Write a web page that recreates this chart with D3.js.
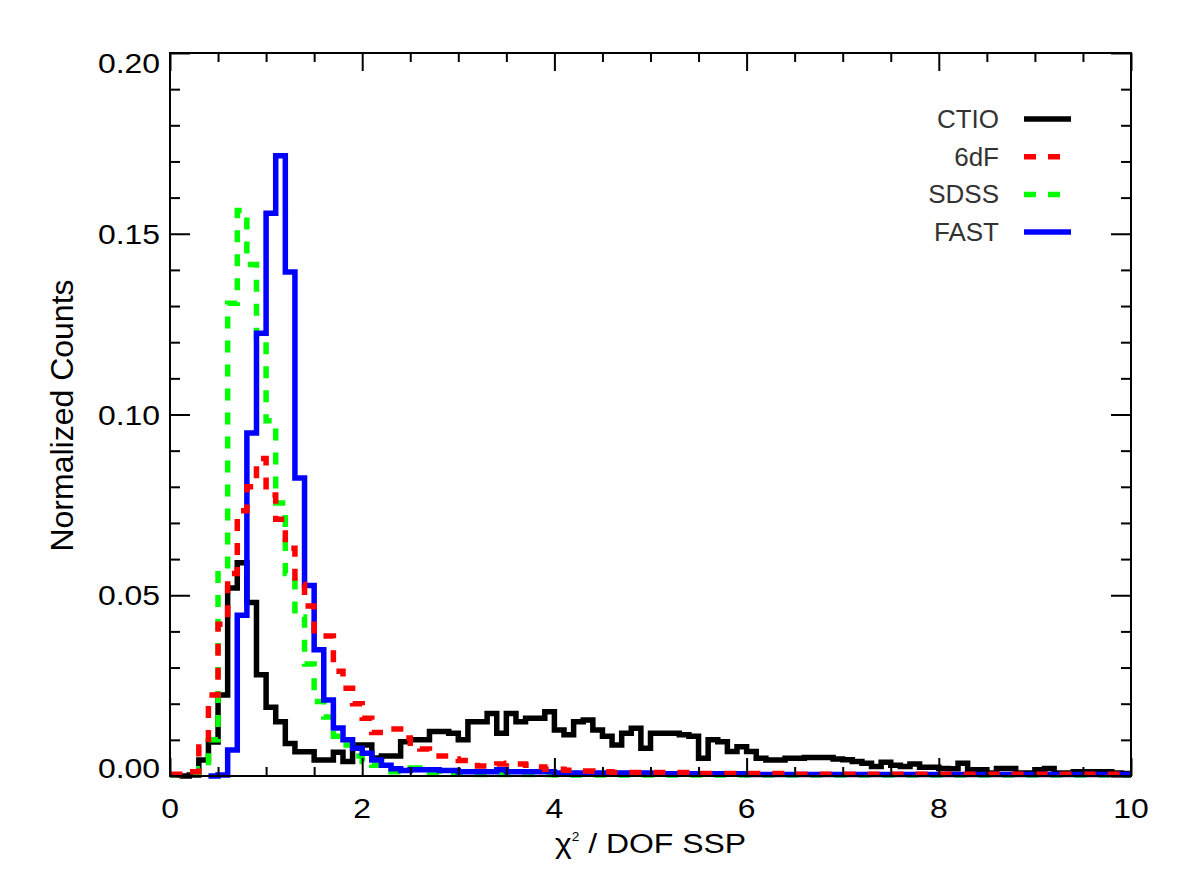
<!DOCTYPE html>
<html>
<head>
<meta charset="utf-8">
<script src="https://cdn.jsdelivr.net/npm/d3@7"></script>
<style>
  body { margin: 0; background: #fff; }
  svg { display: block; }
  text { font-family: "Liberation Sans", Arial, Helvetica, sans-serif; }
</style>
</head>
<body>
<div id="chart"></div>
<script>
// histogram bins: 0.1 wide from 0 to 10, null = series not plotted there
var binWidth = 0.1;

var ctio = [null, 0, 0.0003, 0.0044, 0.0094, 0.0224, 0.052, 0.059, 0.048, 0.028,
  0.019, 0.015, 0.009, 0.0067, 0.0067, 0.0044, 0.0044, 0.0066, 0.004, 0.0086,
  0.0086, 0.005, 0.0055, 0.0055, 0.0095, 0.010, 0.010, 0.0123, 0.0123, 0.0118,
  0.010, 0.015, 0.015, 0.0173, 0.0118, 0.0173, 0.015, 0.016, 0.016, 0.0178,
  0.0127, 0.0114, 0.015, 0.0155, 0.0127, 0.011, 0.0086, 0.0118, 0.0132, 0.0077,
  0.0118, 0.0118, 0.0118, 0.0114, 0.011, 0.0049, 0.010, 0.0095, 0.0068, 0.0081,
  0.0068, 0.0049, 0.0044, 0.0044, 0.0049, 0.0049, 0.0051, 0.0051, 0.0051, 0.0047,
  0.0045, 0.0040, 0.0035, 0.0026, 0.0038, 0.0030, 0.0026, 0.0033, 0.0024, 0.0024,
  0.0021, 0.0020, 0.0035, 0.0017, 0.0017, 0.0008, 0.0021, 0.0021, 0.0008, 0.0008,
  0.0017, 0.0021, 0.0008, 0.0008, 0.0012, 0.0012, 0.0012, 0.0012, 0.0008, 0.0007];

var sixdf = [0.0005, 0.0003, 0.0012, 0.008, 0.0224, 0.042, 0.056, 0.0734, 0.080, 0.0878,
  0.0777, 0.071, 0.063, 0.053, 0.047, 0.0387, 0.0387, 0.029, 0.0243, 0.020,
  0.016, 0.012, 0.012, 0.013, 0.0105, 0.008, 0.0075, 0.0065, 0.0055, 0.0047,
  0.0043, 0.004, 0.0028, 0.0026, 0.0033, 0.0035, 0.0033, 0.003, 0.0025, 0.0019,
  0.0019, 0.0016, 0.0014, 0.0014, 0.0013, 0.0012, 0.001, 0.001, 0.001, 0.001,
  0.001, 0.001, 0.001, 0.001, 0.001, 0.0007, 0.0007, 0.0007, 0.0007, 0.0007,
  0.0007, 0.0007, 0.0007, 0.0007, 0.0007, 0.0005, 0.0005, 0.0005, 0.0005, 0.0005,
  0.0005, 0.0005, 0.0005, 0.0005, 0.0005, 0.0005, 0.0005, 0.0005, 0.0005, 0.0005,
  0.0005, 0.0005, 0.0005, 0.0005, 0.0005, 0.0005, 0.0005, 0.0005, 0.0005, 0.0005,
  0.0005, 0.0005, 0.0005, 0.0005, 0.0005, 0.0005, 0.0005, 0.0005, 0.0005, 0.0005];

var sdss = [0.0003, 0.0003, 0.0005, 0.002, 0.010, 0.057, 0.1308, 0.1564, 0.1415, 0.121,
  0.0983, 0.0755, 0.056, 0.044, 0.031, 0.0206, 0.0163, 0.011, 0.0086, 0.0055,
  0.004, 0.003, 0.002, 0.0012, 0.0012, 0.0022, 0.0012, 0.0006, 0.0005, 0.0005,
  0.0005, 0.0005, 0.0004, 0.0004, 0.0004, 0.0004, 0.0004, 0.0004, 0.0004, 0.0004,
  0.0003, 0.0003, 0.0003, 0.0003, 0.0003, 0.0003, 0.0003, 0.0003, 0.0003, 0.0003,
  0.0003, 0.0003, 0.0003, 0.0003, 0.0003, 0.0003, 0.0003, 0.0003, 0.0003, 0.0003,
  0.0003, 0.0003, 0.0003, 0.0003, 0.0003, 0.0003, 0.0003, 0.0003, 0.0003, 0.0003,
  0.0003, 0.0003, 0.0003, 0.0003, 0.0003, 0.0003, 0.0003, 0.0003, 0.0003, 0.0003,
  0.0003, 0.0003, 0.0003, 0.0003, 0.0003, 0.0003, 0.0003, 0.0003, 0.0003, 0.0003,
  0.0003, 0.0003, 0.0003, 0.0003, 0.0003, 0.0003, 0.0003, 0.0003, 0.0003, 0.0003];

var fast = [null, null, null, null, 0, 0.0003, 0.0072, 0.0445, 0.0949, 0.1225,
  0.1557, 0.1716, 0.1394, 0.0824, 0.0527, 0.0349, 0.021, 0.0133, 0.010, 0.0077,
  0.0063, 0.0044, 0.003, 0.002, 0.0015, 0.0017, 0.0017, 0.0017, 0.0015, 0.0015,
  0.0012, 0.0012, 0.0012, 0.0012, 0.0017, 0.0012, 0.0012, 0.0012, 0.0012, 0.0012,
  0.0008, 0.0008, 0.0008, 0.0008, 0.0008, 0.0008, 0.0008, 0.0008, 0.0008, 0.0008,
  0.0006, 0.0006, 0.0006, 0.0006, 0.0006, 0.0006, 0.0006, 0.0006, 0.0006, 0.0006,
  0.0004, 0.0004, 0.0004, 0.0004, 0.0004, 0.0004, 0.0004, 0.0004, 0.0004, 0.0004,
  0.0004, 0.0004, 0.0004, 0.0004, 0.0004, 0.0004, 0.0004, 0.0004, 0.0004, 0.0004,
  0.0004, 0.0004, 0.0004, 0.0004, 0.0004, 0.0004, 0.0004, 0.0004, 0.0004, 0.0004,
  0.0004, 0.0004, 0.0004, 0.0004, 0.0004, 0.0004, 0.0004, 0.0004, 0.0004, 0.0004];

var seriesNames = ["CTIO", "6dF", "SDSS", "FAST"];
var xTickValues = [0, 2, 4, 6, 8, 10];
var xTickLabels = ["0", "2", "4", "6", "8", "10"];
var yTickValues = [0, 0.05, 0.10, 0.15, 0.20];
var yTickLabels = ["0.00", "0.05", "0.10", "0.15", "0.20"];

function drawChart() {
  var series = [
    {name: "CTIO", values: ctio, color: "#000000", dash: null},
    {name: "SDSS", values: sdss, color: "#00ff00", dash: "12,12"},
    {name: "FAST", values: fast, color: "#0000ff", dash: null},
    {name: "6dF", values: sixdf, color: "#ff0000", dash: "12,12"}
  ];

  var width = 1180, height = 886;
  var pLeft = 170, pRight = 1131, pTop = 53, pBottom = 776;
  var stretch = 1.14;

  var x = d3.scaleLinear().domain([0, 10]).range([pLeft, pRight]);
  var y = d3.scaleLinear().domain([0, 0.2]).range([pBottom, pTop]);

  var svg = d3.select("#chart").append("svg")
      .attr("width", width)
      .attr("height", height);

  svg.append("defs").append("clipPath")
      .attr("id", "plotclip")
    .append("rect")
      .attr("x", pLeft).attr("y", pTop - 3)
      .attr("width", pRight - pLeft).attr("height", pBottom - pTop + 6);

  // histograms
  var line = d3.line()
      .x(function(d) { return x(d[0]); })
      .y(function(d) { return y(d[1]); })
      .curve(d3.curveStepAfter);

  function stepPoints(values) {
    var pts = [];
    values.forEach(function(v, i) {
      if (v !== null) pts.push([i * binWidth, v]);
    });
    pts.push([values.length * binWidth, values[values.length - 1]]);
    return pts;
  }

  var plot = svg.append("g").attr("clip-path", "url(#plotclip)");
  series.forEach(function(s) {
    plot.append("path")
        .datum(stepPoints(s.values))
        .attr("d", line)
        .attr("fill", "none")
        .attr("stroke", s.color)
        .attr("stroke-width", 5.5)
        .attr("stroke-linejoin", "miter")
        .attr("stroke-dasharray", s.dash);
  });

  // ticks (all inward)
  var xMinor = d3.range(0.5, 10, 0.5).filter(function(v) { return v % 2 !== 0; });
  var yMinor = d3.range(1, 20).filter(function(v) { return v % 5 !== 0; }).map(function(v) { return v / 100; });

  function tickAxis(axis, values, size, transform) {
    var g = svg.append("g")
        .attr("transform", transform)
        .call(axis.tickValues(values).tickSize(size).tickFormat(""));
    g.select(".domain").remove();
    g.selectAll(".tick line").attr("stroke", "#000").attr("stroke-width", 2);
  }

  tickAxis(d3.axisBottom(x), xTickValues, -18, "translate(0," + pBottom + ")");
  tickAxis(d3.axisBottom(x), xMinor, -9, "translate(0," + pBottom + ")");
  tickAxis(d3.axisTop(x), xTickValues, -18, "translate(0," + pTop + ")");
  tickAxis(d3.axisTop(x), xMinor, -9, "translate(0," + pTop + ")");
  tickAxis(d3.axisLeft(y), yTickValues, -20, "translate(" + pLeft + ",0)");
  tickAxis(d3.axisLeft(y), yMinor, -10, "translate(" + pLeft + ",0)");
  tickAxis(d3.axisRight(y), yTickValues, -20, "translate(" + pRight + ",0)");
  tickAxis(d3.axisRight(y), yMinor, -10, "translate(" + pRight + ",0)");

  svg.append("rect")
      .attr("x", pLeft).attr("y", pTop)
      .attr("width", pRight - pLeft).attr("height", pBottom - pTop)
      .attr("fill", "none")
      .attr("stroke", "#000")
      .attr("stroke-width", 2);

  // labels
  function label(px, py, str, anchor, size, sx) {
    return svg.append("text")
        .attr("transform", "translate(" + px + "," + py + ") scale(" + sx + ",1)")
        .attr("text-anchor", anchor)
        .attr("font-size", size)
        .attr("fill", "#000")
        .text(str);
  }

  xTickValues.forEach(function(v, i) {
    label(x(v), 818, xTickLabels[i], "middle", 28, stretch);
  });
  yTickValues.forEach(function(v, i) {
    var cy = Math.max(pTop + 10, Math.min(pBottom - 8, y(v)));
    label(160, cy + 10, yTickLabels[i], "end", 28, stretch);
  });

  var xt = svg.append("text")
      .attr("transform", "translate(" + ((pLeft + pRight) / 2) + ",853) scale(" + stretch + ",1)")
      .attr("text-anchor", "middle")
      .attr("font-size", 28)
      .attr("fill", "#000");
  xt.append("tspan").text("χ");
  xt.append("tspan").attr("font-size", 12).attr("dy", -12).text("2");
  xt.append("tspan").attr("dy", 12).text(" / DOF SSP");

  svg.append("text")
      .attr("transform", "translate(73," + ((pTop + pBottom) / 2 + 1) + ") rotate(-90)")
      .attr("text-anchor", "middle")
      .attr("font-size", 32)
      .attr("fill", "#000")
      .text("Normalized Counts");

  // legend
  var legend = svg.append("g");
  var legendOrder = seriesNames.map(function(n) {
    return series.filter(function(s) { return s.name === n; })[0];
  });
  legendOrder.forEach(function(s, i) {
    var ly = 119 + i * 37.7;
    legend.append("text")
        .attr("x", 999).attr("y", ly + 9)
        .attr("text-anchor", "end")
        .attr("font-size", 26)
        .attr("fill", "#333")
        .text(s.name);
    legend.append("line")
        .attr("x1", 1024).attr("x2", 1071)
        .attr("y1", ly).attr("y2", ly)
        .attr("stroke", s.color)
        .attr("stroke-width", 5.5)
        .attr("stroke-dasharray", s.dash);
  });
}

drawChart();
</script>
</body>
</html>
